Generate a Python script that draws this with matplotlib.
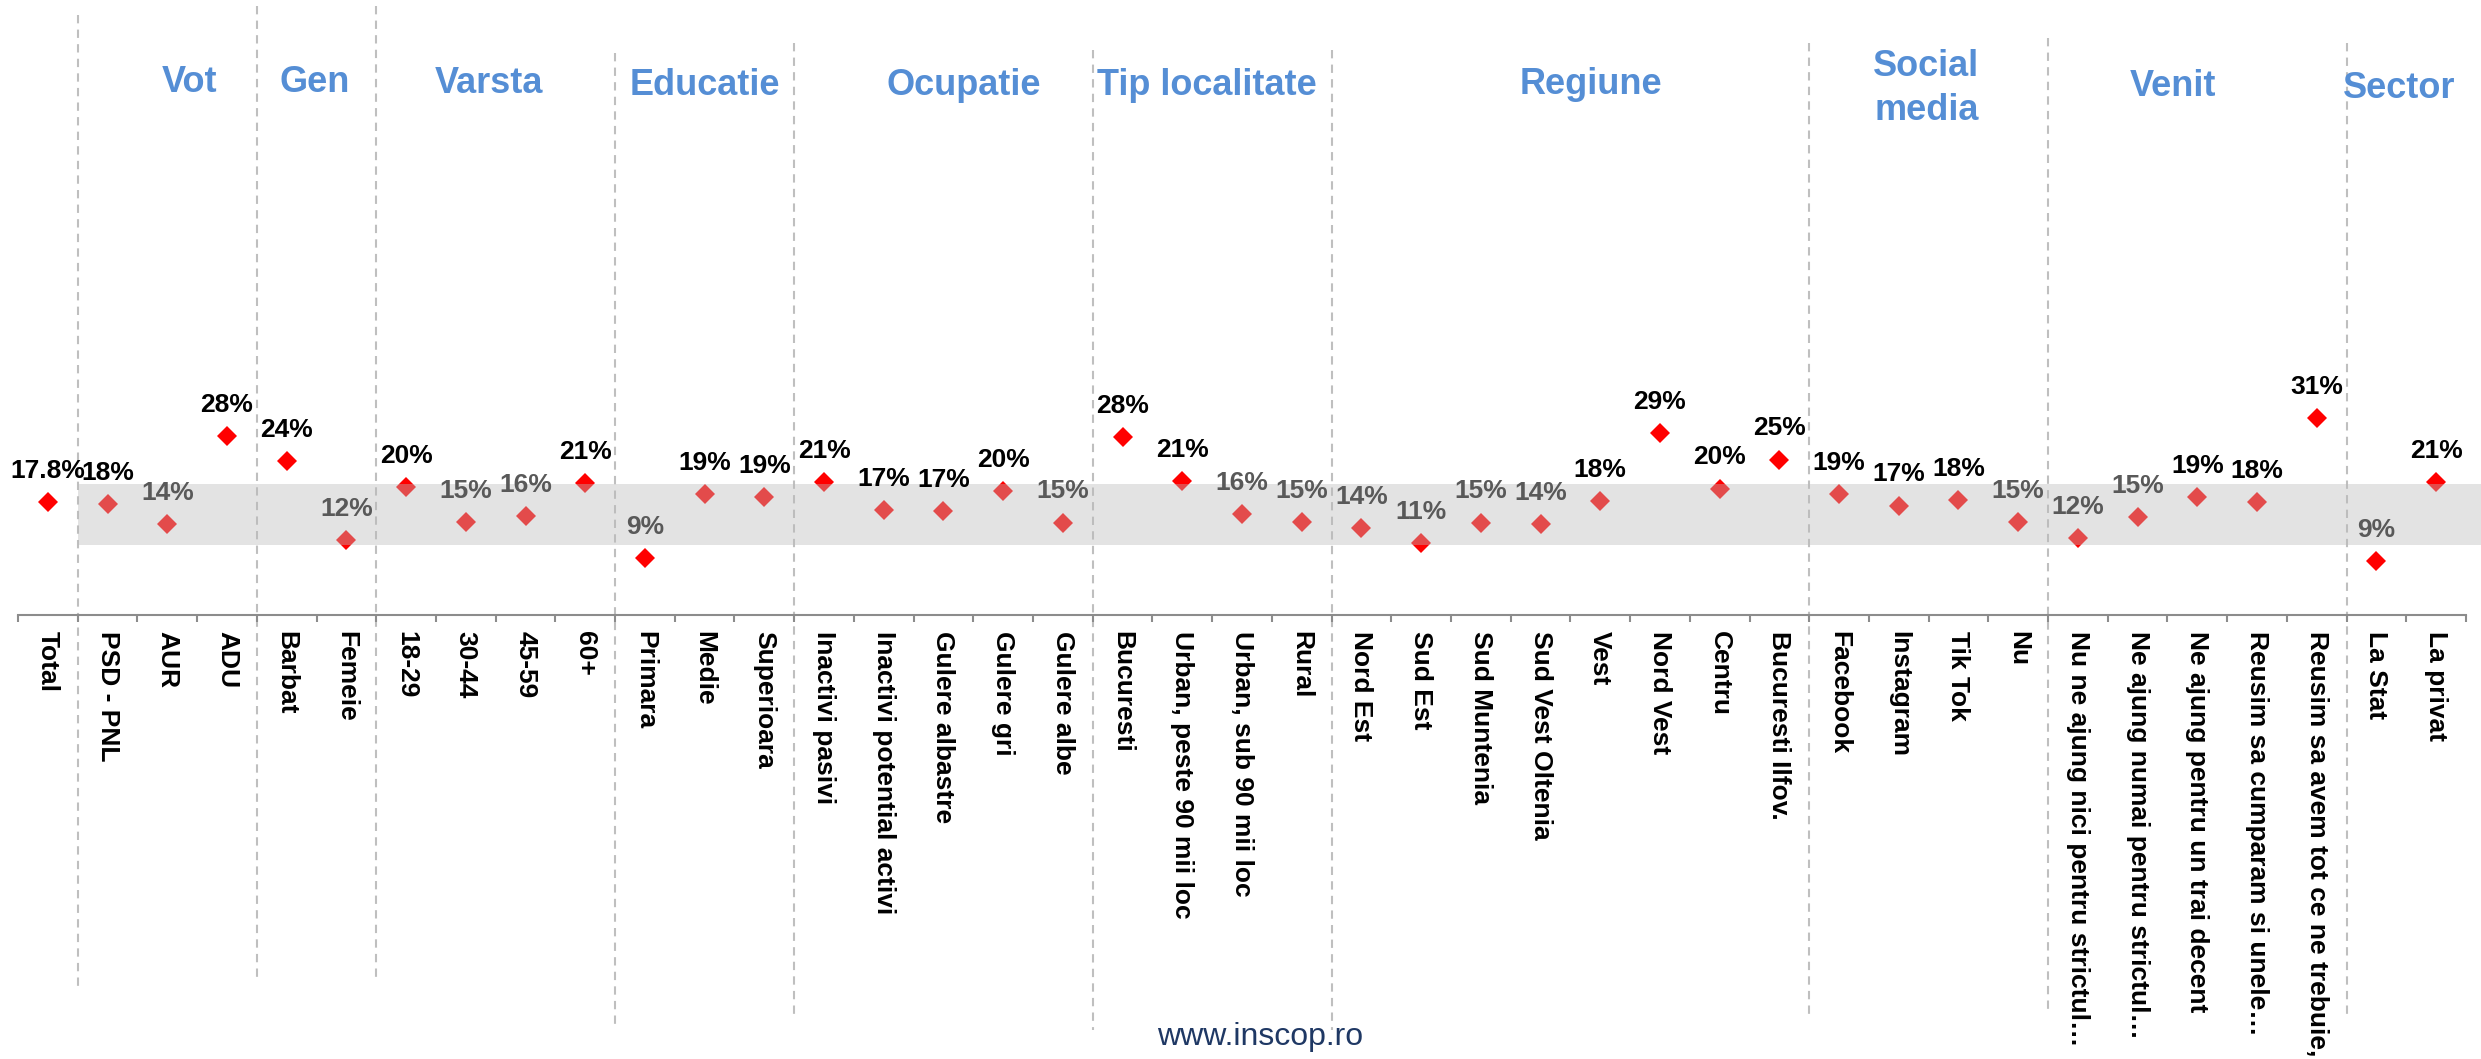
import matplotlib
matplotlib.use("Agg")
import matplotlib.pyplot as plt
from matplotlib.transforms import blended_transform_factory

# ---------------- data ----------------
categories = [
    "Total",
    "PSD - PNL", "AUR", "ADU",
    "Barbat", "Femeie",
    "18-29", "30-44", "45-59", "60+",
    "Primara", "Medie", "Superioara",
    "Inactivi pasivi", "Inactivi potential activi", "Gulere albastre", "Gulere gri", "Gulere albe",
    "Bucuresti", "Urban, peste 90 mii loc", "Urban, sub 90 mii loc", "Rural",
    "Nord Est", "Sud Est", "Sud Muntenia", "Sud Vest Oltenia", "Vest", "Nord Vest", "Centru",
    "Bucuresti Ilfov.",
    "Facebook", "Instagram", "Tik Tok", "Nu",
    "Nu ne ajung nici pentru strictul…", "Ne ajung numai pentru strictul…",
    "Ne ajung pentru un trai decent", "Reusim sa cumparam si unele…",
    "Reusim sa avem tot ce ne trebuie,",
    "La Stat", "La privat",
]
values = [
    17.8,
    17.5, 14.4, 28.4,
    24.4, 11.8,
    20.3, 14.7, 15.6, 20.8,
    9.0, 19.2, 18.6,
    21.1, 16.6, 16.5, 19.6, 14.6,
    28.1, 21.2, 16.0, 14.7,
    13.8, 11.4, 14.6, 14.3, 18.0, 28.8, 20.0, 24.6,
    19.1, 17.3, 18.2, 14.7,
    12.1, 15.4, 18.6, 17.9, 31.2,
    8.5, 21.1,
]
value_labels = [
    "17.8%",
    "18%", "14%", "28%",
    "24%", "12%",
    "20%", "15%", "16%", "21%",
    "9%", "19%", "19%",
    "21%", "17%", "17%", "20%", "15%",
    "28%", "21%", "16%", "15%",
    "14%", "11%", "15%", "14%", "18%", "29%", "20%", "25%",
    "19%", "17%", "18%", "15%",
    "12%", "15%", "19%", "18%", "31%",
    "9%", "21%",
]
groups = ["Vot", "Gen", "Varsta", "Educatie", "Ocupatie", "Tip localitate",
          "Regiune", "Social\nmedia", "Venit", "Sector"]
group_sizes = [3, 2, 4, 3, 5, 4, 8, 4, 5, 2]
band_range = (11.1, 20.7)

# ---------------- layout ----------------
W, H = 2481, 1059
plt.rcParams["font.family"] = ["Liberation Sans", "DejaVu Sans"]

fig = plt.figure(figsize=(W / 100, H / 100), dpi=100)
fig.patch.set_facecolor("white")
ax_bottom_px = 614.5
ax = fig.add_axes([18 / W, (H - ax_bottom_px) / H, (2466 - 18) / W, 252 / H])
n = len(categories)
ax.set_xlim(-0.5, n - 0.5)
ax.set_ylim(0, 40)

for s in ["left", "top", "right"]:
    ax.spines[s].set_visible(False)
ax.spines["bottom"].set_color("#8C8C8C")
ax.spines["bottom"].set_linewidth(1.5)
ax.set_yticks([])

xs = list(range(n))
ax.set_xticks(xs)
ax.set_xticklabels(categories, rotation=-90, ha="center", va="top",
                   fontsize=19, fontweight="bold", color="black")
ax.tick_params(axis="x", which="major", length=0, pad=12)
ax.set_xticks([i - 0.5 for i in range(n + 1)], minor=True)
ax.tick_params(axis="x", which="minor", length=5, width=1.5, color="#8C8C8C",
               direction="out")

# markers
ax.plot(xs, values, linestyle="none", marker="D", markersize=10.3,
        markeredgewidth=0, color="#FF0000", zorder=2, clip_on=False)

# semi-transparent band
ax.fill_between([0.5, 41.5], band_range[0], band_range[1], color="#BCBCBC",
                alpha=0.404, linewidth=0, zorder=3, clip_on=False)

# value labels
for x, v, lab in zip(xs, values, value_labels):
    col = "black" if int(lab.rstrip("%").split(".")[0]) >= 17 else "#595959"
    ax.annotate(lab, (x, v), xytext=(0, 17.3), textcoords="offset points",
                ha="center", va="baseline", fontsize=19, fontweight="bold",
                color=col, zorder=5, annotation_clip=False)

# group separators and titles
tr = blended_transform_factory(ax.transData, fig.transFigure)
sep_tops = [15, 6, 6, 53, 43, 50, 50, 43, 38, 43]
sep_bottoms = [988, 980, 980, 1027, 1017, 1030, 1030, 1017, 1013, 1017]
title_x = [2.38, 4.47, 7.39, 11.0, 15.34, 19.42, 25.84, 31.46, 35.6, 39.38]
title_base = [92, 92, 93, 95, 95, 95, 94, 76, 96, 98]

start = 1
for g, size, top, bot, tx, tb in zip(groups, group_sizes, sep_tops, sep_bottoms,
                                      title_x, title_base):
    bx = start - 0.5
    ax.plot([bx, bx], [1 - top / H, 1 - bot / H], transform=tr, color="#BFBFBF",
            linewidth=1.5, linestyle=(0, (4, 3)), clip_on=False, zorder=1)
    lines = g.split("\n")
    for k, line in enumerate(lines):
        ax.text(tx, 1 - (tb + 44 * k) / H, line, transform=tr, ha="center",
                va="baseline", fontsize=26, fontweight="bold", color="#558ED5")
    start += size

fig.text(1260 / W, 1 - 1037 / H, "www.inscop.ro", ha="center", va="center",
         fontsize=23, color="#1F3864")

fig.savefig("out.png", dpi=100, facecolor="white")
